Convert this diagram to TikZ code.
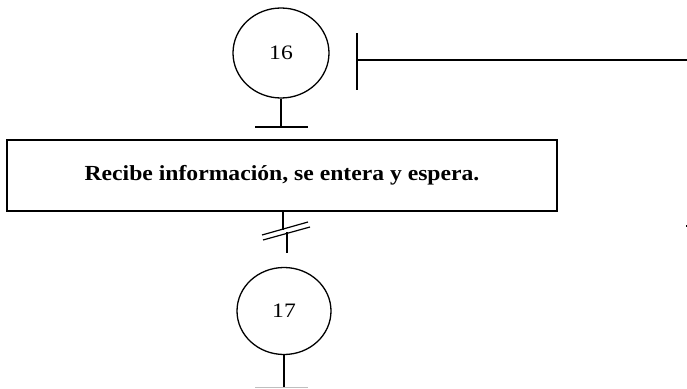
\documentclass[tikz,border=0pt]{standalone}
\usepackage{fontspec}
\setmainfont{Liberation Serif}
\newfontfamily\boxfont[FakeStretch=1.1]{Liberation Serif Bold}
\newfontfamily\numfont[FakeStretch=1.15]{Liberation Serif}
\usetikzlibrary{shapes.geometric}
\tikzset{
  stepcirc/.style={ellipse, draw, line width=1.3pt, inner sep=0pt, font=\numfont\fontsize{20.5}{22}\selectfont},
  actbox/.style={rectangle, draw, line width=1.2pt, inner sep=0pt, font=\boxfont\fontsize{21.5}{24}\selectfont},
  ln/.style={line width=1.2pt},
  faint/.style={line width=1.2pt, black!25}
}
\begin{document}
\begin{tikzpicture}[x=1pt,y=-1pt]
\useasboundingbox (0,0) rectangle (687,388);
% step 16
\node[stepcirc, minimum width=96pt, minimum height=90pt] (s16) at (281,53) {16};
\coordinate (t16) at (281,127);
\coordinate (t16l) at (255,127);
\coordinate (t16r) at (308,127);
\draw[ln] (s16.south) -- (t16);
\draw[ln] (t16l) -- (t16r);
% vertical bar and horizontal line
\coordinate (vbt) at (357,33);
\coordinate (vbb) at (357,90);
\coordinate (hl) at (357,60);
\coordinate (hr) at (687,60);
\draw[ln] (vbt) -- (vbb);
\draw[ln] (hl) -- (hr);
% action box
\node[actbox, minimum width=550pt, minimum height=71pt] (act) at (282,175.5) {Recibe información, se entera y espera.};
% transition with double slash
\coordinate (tu) at (287,253);
\coordinate (mid) at (283,230);
\coordinate (mid2) at (287,232);
\coordinate (sa1) at (262,235);
\coordinate (sa2) at (308,222);
\coordinate (sb1) at (263,240);
\coordinate (sb2) at (310,227);
\draw[ln] (act.south -| mid) -- (mid);
\draw[ln] (mid2) -- (tu);
\draw[ln] (sa1) -- (sa2);
\draw[ln] (sb1) -- (sb2);
% step 17
\node[stepcirc, minimum width=94pt, minimum height=87pt] (s17) at (284,311) {17};
\coordinate (b17) at (284,388);
\coordinate (b17l) at (255,387.5);
\coordinate (b17r) at (308,387.5);
\draw[ln] (s17.south) -- (b17);
\draw[faint] (b17l) -- (b17r);
% small mark at right edge
\coordinate (dot) at (685.5,225);
\fill (dot) rectangle ++(1.5,2);
\end{tikzpicture}
\end{document}
